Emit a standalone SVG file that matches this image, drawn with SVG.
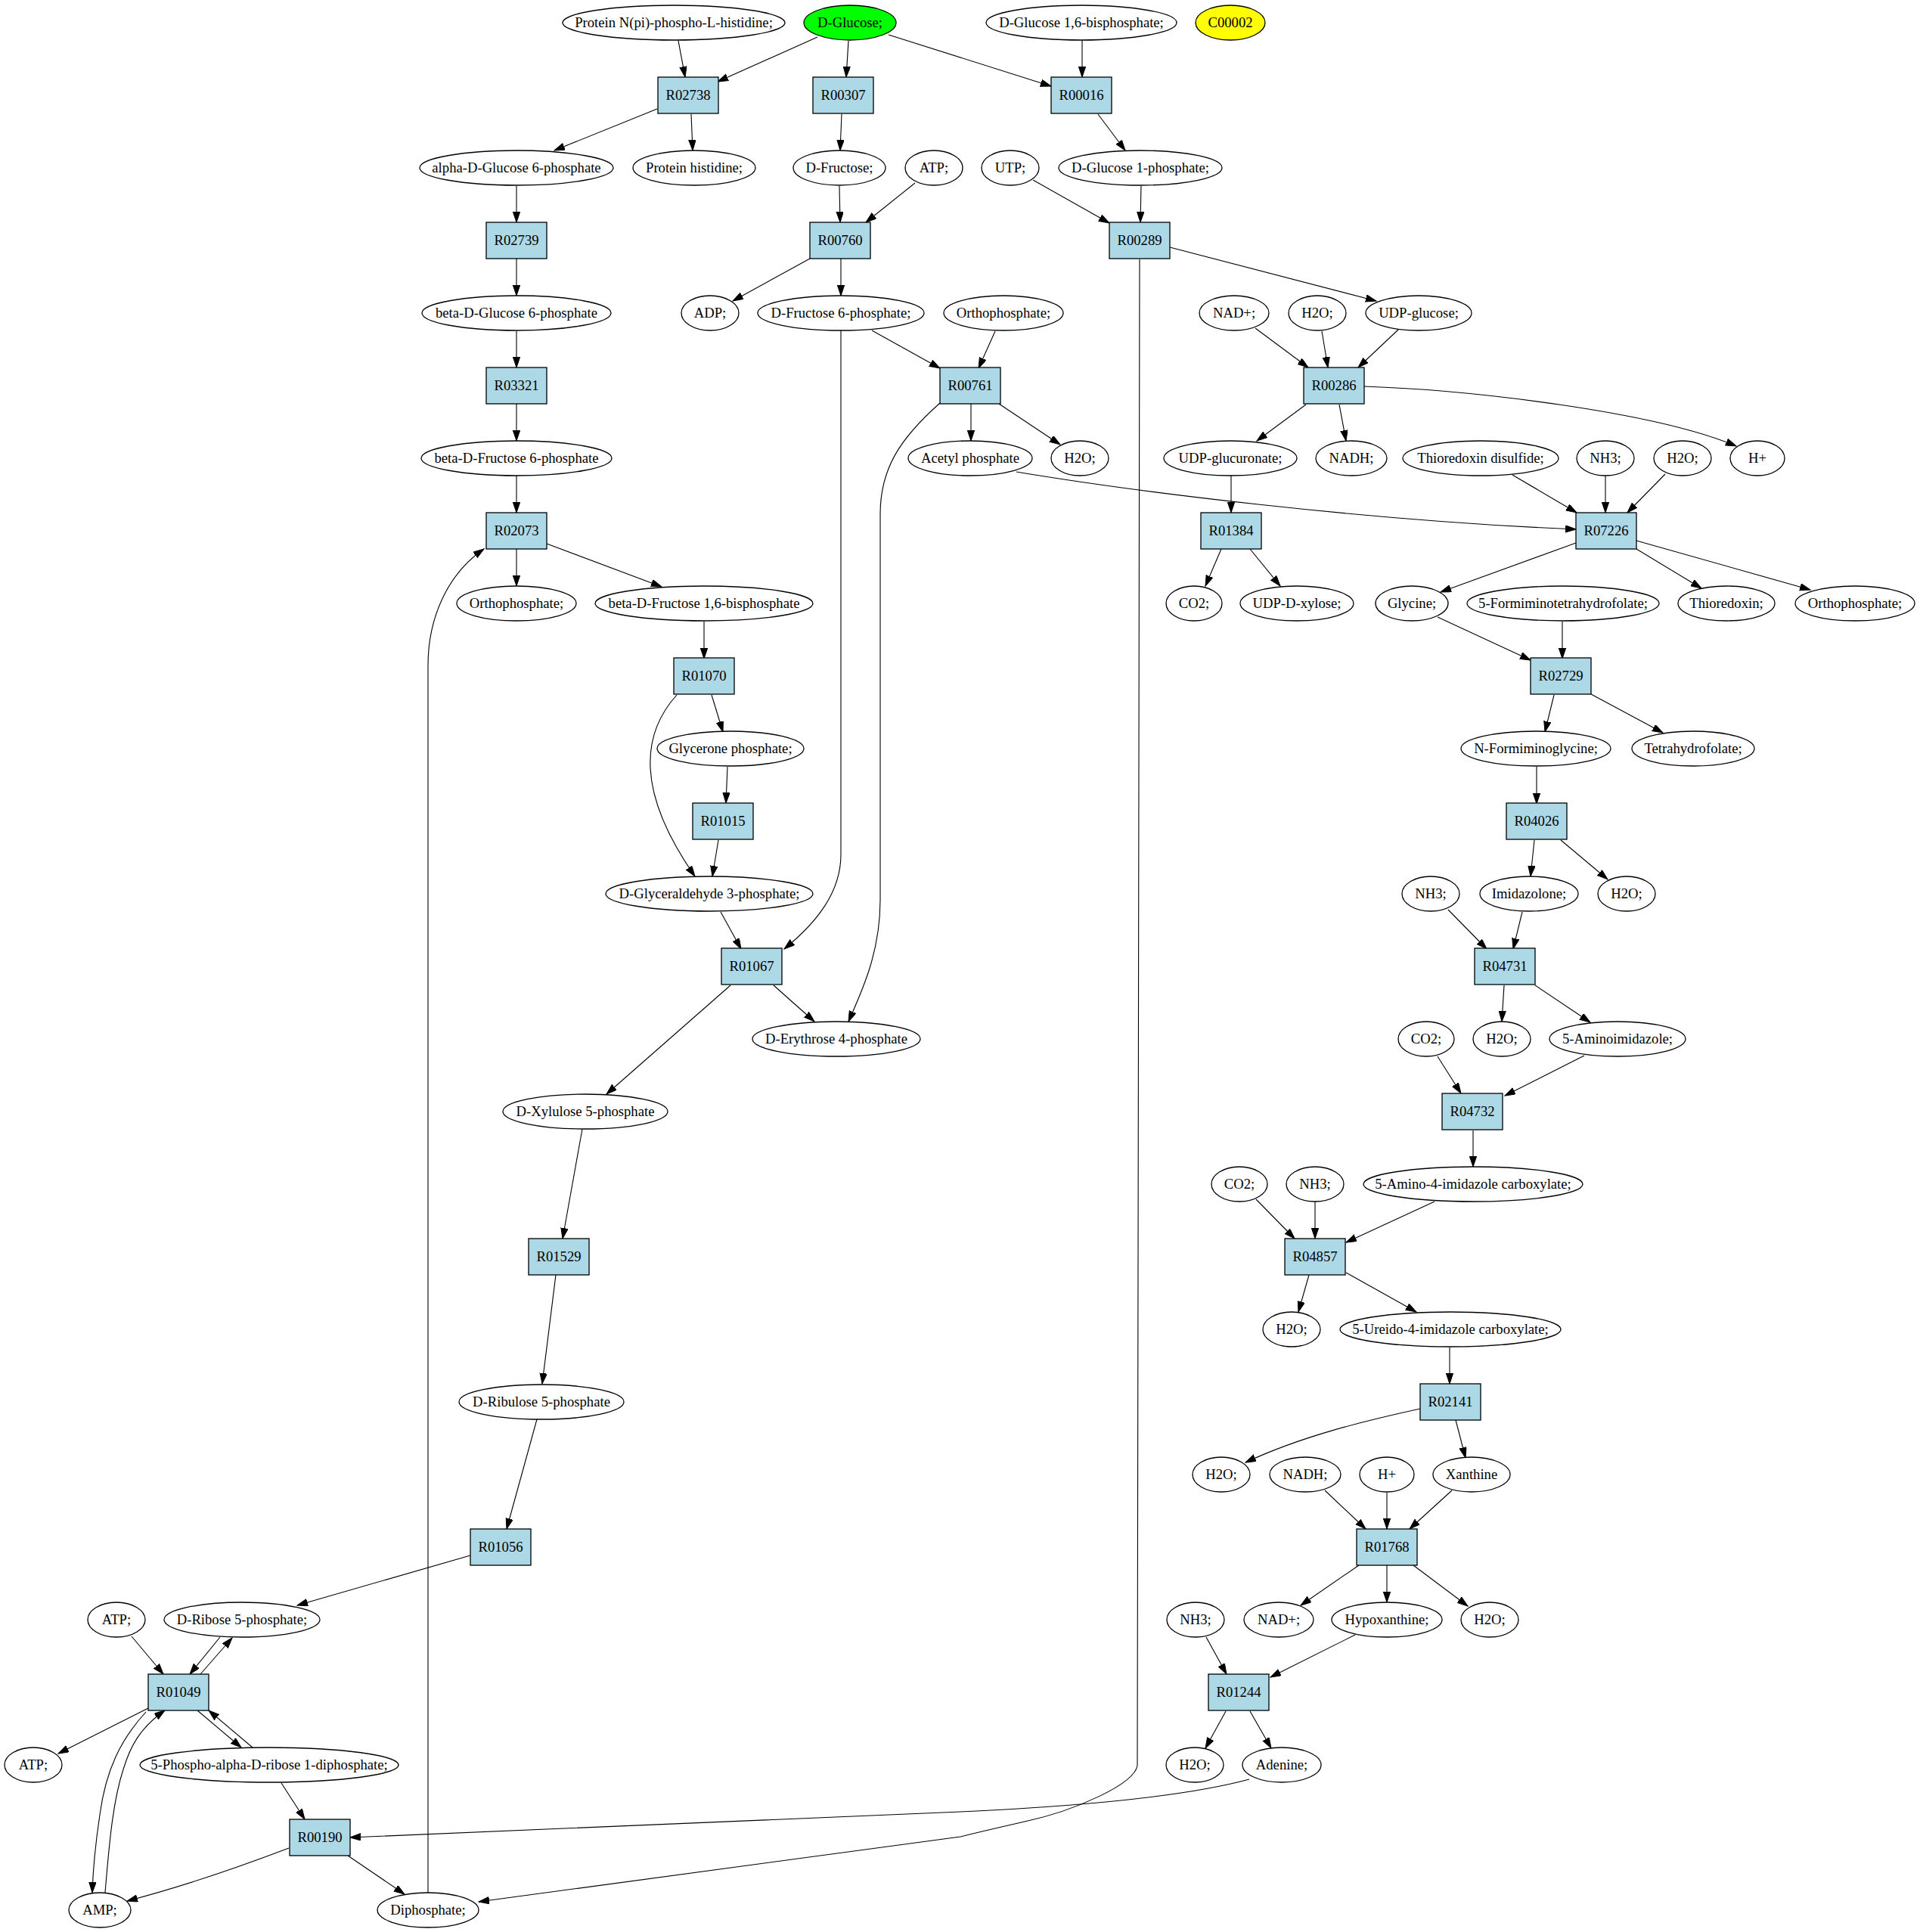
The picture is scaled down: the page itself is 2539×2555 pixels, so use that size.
<svg xmlns="http://www.w3.org/2000/svg" width="2539" height="2555" viewBox="0 0 2539 2555">
<style>
.bg{fill:#ffffff}
.e{fill:#ffffff;stroke:#000;stroke-width:1.3}
.r{fill:#add8e6;stroke:#000;stroke-width:1.3}
.g{fill:#00ff00;stroke:#000;stroke-width:1.3}
.y{fill:#ffff00;stroke:#000;stroke-width:1.3}
text{font-family:"Liberation Serif","Times New Roman",serif;font-size:18.67px;text-anchor:middle;fill:#000}
.c path{fill:none;stroke:#000;stroke-width:1.1;marker-end:url(#ah)}
</style>
<defs>
<marker id="ah" markerUnits="userSpaceOnUse" markerWidth="15" markerHeight="10" refX="14" refY="4.7" orient="auto"><path d="M0,0 L14,4.7 L0,9.4 z" fill="#000" stroke="#000" stroke-width="1"/></marker>
</defs>
<rect class="bg" x="0" y="0" width="2539" height="2555"/>
<g class="c" id="connectors">
<path d="M897,54 L906,102"/>
<path d="M1081,49 L949,108"/>
<path d="M1122,54 L1119,102"/>
<path d="M1175,46 L1390,114"/>
<path d="M1431,53 L1431,102"/>
<path d="M869,144 L733,199"/>
<path d="M914,151 L916,199"/>
<path d="M1113,151 L1111,199"/>
<path d="M1452,151 L1488,199"/>
<path d="M683,246 L683,294"/>
<path d="M1110,246 L1111,294"/>
<path d="M1210,242 L1145,294"/>
<path d="M1366,238 L1467,295"/>
<path d="M1509,246 L1508,294"/>
<path d="M683,342 L683,391"/>
<path d="M1071,342 L969,398"/>
<path d="M1112,342 L1112,391"/>
<path d="M1547,327 L1820,398"/>
<path d="M1507,343 L1504,2335 C1500,2360 1420,2395 1355,2409 C1320,2417 1290,2424 1270,2429 L633,2515"/>
<path d="M1153,437 L1243,487"/>
<path d="M1316,438 L1294,487"/>
<path d="M1112,437 L1112,1130 C1112,1180 1080,1220 1037,1255"/>
<path d="M1660,434 L1730,486"/>
<path d="M1748,438 L1756,486"/>
<path d="M1849,436 L1796,486"/>
<path d="M683,438 L683,486"/>
<path d="M683,534 L683,583"/>
<path d="M1284,534 L1284,583"/>
<path d="M1321,534 L1402,588"/>
<path d="M1243,533 C1190,580 1164,620 1164,680 L1164,1190 C1164,1260 1140,1310 1122,1351"/>
<path d="M1727,535 L1662,583"/>
<path d="M1771,535 L1780,583"/>
<path d="M1804,511 C1950,516 2190,545 2296,590"/>
<path d="M683,629 L683,678"/>
<path d="M1344,624 C1500,650 1800,688 2084,700"/>
<path d="M1628,629 L1628,678"/>
<path d="M2000,628 L2085,678"/>
<path d="M2123,629 L2123,678"/>
<path d="M2202,627 L2152,678"/>
<path d="M683,726 L683,775"/>
<path d="M723,719 L875,776"/>
<path d="M566,2503 L566,880 C566,820 590,760 640,726"/>
<path d="M1615,726 L1594,775"/>
<path d="M1653,726 L1693,775"/>
<path d="M2084,718 L1905,783"/>
<path d="M2164,726 L2250,778"/>
<path d="M2164,715 L2394,780"/>
<path d="M931,822 L931,871"/>
<path d="M1901,816 L2024,873"/>
<path d="M2066,822 L2066,871"/>
<path d="M941,919 L956,968"/>
<path d="M895,919 C840,980 850,1060 919,1159"/>
<path d="M2055,919 L2043,968"/>
<path d="M2104,918 L2199,969"/>
<path d="M962,1014 L960,1062"/>
<path d="M2032,1014 L2032,1063"/>
<path d="M950,1111 L942,1159"/>
<path d="M2029,1111 L2024,1159"/>
<path d="M2064,1111 L2126,1163"/>
<path d="M953,1206 L980,1255"/>
<path d="M1915,1203 L1966,1255"/>
<path d="M2013,1206 L2001,1255"/>
<path d="M1023,1303 L1077,1351"/>
<path d="M966,1303 L802,1447"/>
<path d="M1989,1303 L1986,1351"/>
<path d="M2030,1303 L2103,1352"/>
<path d="M1901,1397 L1932,1446"/>
<path d="M2095,1396 L1990,1449"/>
<path d="M770,1493 L744,1638"/>
<path d="M1948,1495 L1948,1543"/>
<path d="M1661,1586 L1712,1638"/>
<path d="M1739,1589 L1739,1638"/>
<path d="M1897,1589 L1780,1643"/>
<path d="M1731,1686 L1717,1735"/>
<path d="M1780,1683 L1873,1735"/>
<path d="M735,1686 L717,1830"/>
<path d="M1917,1782 L1917,1830"/>
<path d="M1878,1863 C1800,1880 1720,1900 1647,1934"/>
<path d="M1925,1878 L1938,1928"/>
<path d="M710,1877 L670,2022"/>
<path d="M1752,1971 L1806,2022"/>
<path d="M1834,1974 L1834,2022"/>
<path d="M1920,1971 L1864,2022"/>
<path d="M622,2057 L393,2123"/>
<path d="M1797,2070 L1720,2123"/>
<path d="M1834,2070 L1834,2119"/>
<path d="M1869,2070 L1941,2124"/>
<path d="M174,2164 L216,2214"/>
<path d="M291,2165 L251,2214"/>
<path d="M265,2214 L307,2166"/>
<path d="M1595,2165 L1622,2214"/>
<path d="M1792,2162 L1680,2218"/>
<path d="M196,2259 L77,2319"/>
<path d="M261,2262 L319,2311"/>
<path d="M334,2311 L276,2262"/>
<path d="M193,2264 C160,2300 140,2340 132,2400 C126,2440 123,2470 122,2503"/>
<path d="M139,2503 C145,2430 150,2380 163,2340 C172,2310 185,2285 218,2262"/>
<path d="M1621,2263 L1594,2312"/>
<path d="M1653,2263 L1681,2312"/>
<path d="M372,2358 L403,2406"/>
<path d="M1652,2353 C1560,2378 1400,2390 1270,2396 L463,2430"/>
<path d="M382,2444 C340,2460 260,2490 168,2514"/>
<path d="M460,2454 L535,2505"/>
</g>
<g id="n_protein_nphospho"><ellipse class="e" cx="891" cy="30" rx="147" ry="23"/><text x="891" y="36">Protein N(pi)-phospho-L-histidine;</text></g>
<g id="n_dglucose"><ellipse class="g" cx="1124" cy="30" rx="61" ry="23"/><text x="1124" y="36">D-Glucose;</text></g>
<g id="n_dglucose16bp"><ellipse class="e" cx="1430" cy="30" rx="126" ry="23"/><text x="1430" y="36">D-Glucose 1,6-bisphosphate;</text></g>
<g id="n_c00002"><ellipse class="y" cx="1627" cy="30" rx="46" ry="23"/><text x="1627" y="36">C00002</text></g>
<g id="r_R02738"><rect class="r" x="870" y="102" width="80" height="48"/><text x="910" y="132">R02738</text></g>
<g id="r_R00307"><rect class="r" x="1075" y="102" width="80" height="48"/><text x="1115" y="132">R00307</text></g>
<g id="r_R00016"><rect class="r" x="1390" y="102" width="80" height="48"/><text x="1430" y="132">R00016</text></g>
<g id="n_alphaglc6p"><ellipse class="e" cx="683" cy="222" rx="128" ry="23"/><text x="683" y="228">alpha-D-Glucose 6-phosphate</text></g>
<g id="n_proteinhis"><ellipse class="e" cx="918" cy="222" rx="81" ry="23"/><text x="918" y="228">Protein histidine;</text></g>
<g id="n_dfructose"><ellipse class="e" cx="1110" cy="222" rx="61" ry="23"/><text x="1110" y="228">D-Fructose;</text></g>
<g id="n_atp1"><ellipse class="e" cx="1235" cy="222" rx="38" ry="23"/><text x="1235" y="228">ATP;</text></g>
<g id="n_utp"><ellipse class="e" cx="1336" cy="222" rx="38" ry="23"/><text x="1336" y="228">UTP;</text></g>
<g id="n_dglc1p"><ellipse class="e" cx="1508" cy="222" rx="108" ry="23"/><text x="1508" y="228">D-Glucose 1-phosphate;</text></g>
<g id="r_R02739"><rect class="r" x="643" y="294" width="80" height="48"/><text x="683" y="324">R02739</text></g>
<g id="r_R00760"><rect class="r" x="1071" y="294" width="80" height="48"/><text x="1111" y="324">R00760</text></g>
<g id="r_R00289"><rect class="r" x="1467" y="294" width="80" height="48"/><text x="1507" y="324">R00289</text></g>
<g id="n_betaglc6p"><ellipse class="e" cx="683" cy="414" rx="125" ry="23"/><text x="683" y="420">beta-D-Glucose 6-phosphate</text></g>
<g id="n_adp"><ellipse class="e" cx="939" cy="414" rx="38" ry="23"/><text x="939" y="420">ADP;</text></g>
<g id="n_dfru6p"><ellipse class="e" cx="1112" cy="414" rx="110" ry="23"/><text x="1112" y="420">D-Fructose 6-phosphate;</text></g>
<g id="n_orthop1"><ellipse class="e" cx="1327" cy="414" rx="79" ry="23"/><text x="1327" y="420">Orthophosphate;</text></g>
<g id="n_nadp1"><ellipse class="e" cx="1632" cy="414" rx="46" ry="23"/><text x="1632" y="420">NAD+;</text></g>
<g id="n_h2o1"><ellipse class="e" cx="1742" cy="414" rx="38" ry="23"/><text x="1742" y="420">H2O;</text></g>
<g id="n_udpglc"><ellipse class="e" cx="1876" cy="414" rx="70" ry="23"/><text x="1876" y="420">UDP-glucose;</text></g>
<g id="r_R03321"><rect class="r" x="643" y="486" width="80" height="48"/><text x="683" y="516">R03321</text></g>
<g id="r_R00761"><rect class="r" x="1243" y="486" width="80" height="48"/><text x="1283" y="516">R00761</text></g>
<g id="r_R00286"><rect class="r" x="1724" y="486" width="80" height="48"/><text x="1764" y="516">R00286</text></g>
<g id="n_betafru6p"><ellipse class="e" cx="683" cy="606" rx="126" ry="23"/><text x="683" y="612">beta-D-Fructose 6-phosphate</text></g>
<g id="n_acetylp"><ellipse class="e" cx="1283" cy="606" rx="82" ry="23"/><text x="1283" y="612">Acetyl phosphate</text></g>
<g id="n_h2o2"><ellipse class="e" cx="1428" cy="606" rx="38" ry="23"/><text x="1428" y="612">H2O;</text></g>
<g id="n_udpglcur"><ellipse class="e" cx="1627" cy="606" rx="88" ry="23"/><text x="1627" y="612">UDP-glucuronate;</text></g>
<g id="n_nadh1"><ellipse class="e" cx="1787" cy="606" rx="47" ry="23"/><text x="1787" y="612">NADH;</text></g>
<g id="n_trxdis"><ellipse class="e" cx="1958" cy="606" rx="103" ry="23"/><text x="1958" y="612">Thioredoxin disulfide;</text></g>
<g id="n_nh3_1"><ellipse class="e" cx="2123" cy="606" rx="38" ry="23"/><text x="2123" y="612">NH3;</text></g>
<g id="n_h2o3"><ellipse class="e" cx="2225" cy="606" rx="38" ry="23"/><text x="2225" y="612">H2O;</text></g>
<g id="n_hplus1"><ellipse class="e" cx="2324" cy="606" rx="36" ry="23"/><text x="2324" y="612">H+</text></g>
<g id="r_R02073"><rect class="r" x="643" y="678" width="80" height="48"/><text x="683" y="708">R02073</text></g>
<g id="r_R01384"><rect class="r" x="1588" y="678" width="80" height="48"/><text x="1628" y="708">R01384</text></g>
<g id="r_R07226"><rect class="r" x="2084" y="678" width="80" height="48"/><text x="2124" y="708">R07226</text></g>
<g id="n_orthop2"><ellipse class="e" cx="683" cy="798" rx="79" ry="23"/><text x="683" y="804">Orthophosphate;</text></g>
<g id="n_betafru16bp"><ellipse class="e" cx="931" cy="798" rx="144" ry="23"/><text x="931" y="804">beta-D-Fructose 1,6-bisphosphate</text></g>
<g id="n_co2_1"><ellipse class="e" cx="1579" cy="798" rx="37" ry="23"/><text x="1579" y="804">CO2;</text></g>
<g id="n_udpxyl"><ellipse class="e" cx="1715" cy="798" rx="75" ry="23"/><text x="1715" y="804">UDP-D-xylose;</text></g>
<g id="n_glycine"><ellipse class="e" cx="1867" cy="798" rx="48" ry="23"/><text x="1867" y="804">Glycine;</text></g>
<g id="n_5fthf"><ellipse class="e" cx="2067" cy="798" rx="127" ry="23"/><text x="2067" y="804">5-Formiminotetrahydrofolate;</text></g>
<g id="n_trx"><ellipse class="e" cx="2283" cy="798" rx="64" ry="23"/><text x="2283" y="804">Thioredoxin;</text></g>
<g id="n_orthop3"><ellipse class="e" cx="2453" cy="798" rx="79" ry="23"/><text x="2453" y="804">Orthophosphate;</text></g>
<g id="r_R01070"><rect class="r" x="891" y="870" width="80" height="48"/><text x="931" y="900">R01070</text></g>
<g id="r_R02729"><rect class="r" x="2024" y="870" width="80" height="48"/><text x="2064" y="900">R02729</text></g>
<g id="n_glyceronep"><ellipse class="e" cx="966" cy="990" rx="97" ry="23"/><text x="966" y="996">Glycerone phosphate;</text></g>
<g id="n_nformgly"><ellipse class="e" cx="2031" cy="990" rx="99" ry="23"/><text x="2031" y="996">N-Formiminoglycine;</text></g>
<g id="n_thf"><ellipse class="e" cx="2239" cy="990" rx="81" ry="23"/><text x="2239" y="996">Tetrahydrofolate;</text></g>
<g id="r_R01015"><rect class="r" x="916" y="1062" width="80" height="48"/><text x="956" y="1092">R01015</text></g>
<g id="r_R04026"><rect class="r" x="1992" y="1062" width="80" height="48"/><text x="2032" y="1092">R04026</text></g>
<g id="n_g3p"><ellipse class="e" cx="938" cy="1182" rx="137" ry="23"/><text x="938" y="1188">D-Glyceraldehyde 3-phosphate;</text></g>
<g id="n_nh3_2"><ellipse class="e" cx="1892" cy="1182" rx="38" ry="23"/><text x="1892" y="1188">NH3;</text></g>
<g id="n_imidazolone"><ellipse class="e" cx="2022" cy="1182" rx="65" ry="23"/><text x="2022" y="1188">Imidazolone;</text></g>
<g id="n_h2o4"><ellipse class="e" cx="2151" cy="1182" rx="38" ry="23"/><text x="2151" y="1188">H2O;</text></g>
<g id="r_R01067"><rect class="r" x="954" y="1254" width="80" height="48"/><text x="994" y="1284">R01067</text></g>
<g id="r_R04731"><rect class="r" x="1950" y="1254" width="80" height="48"/><text x="1990" y="1284">R04731</text></g>
<g id="n_e4p"><ellipse class="e" cx="1106" cy="1374" rx="111" ry="23"/><text x="1106" y="1380">D-Erythrose 4-phosphate</text></g>
<g id="n_co2_2"><ellipse class="e" cx="1886" cy="1374" rx="37" ry="23"/><text x="1886" y="1380">CO2;</text></g>
<g id="n_h2o5"><ellipse class="e" cx="1986" cy="1374" rx="38" ry="23"/><text x="1986" y="1380">H2O;</text></g>
<g id="n_5aminoimid"><ellipse class="e" cx="2139" cy="1374" rx="90" ry="23"/><text x="2139" y="1380">5-Aminoimidazole;</text></g>
<g id="n_xu5p"><ellipse class="e" cx="774" cy="1470" rx="109" ry="23"/><text x="774" y="1476">D-Xylulose 5-phosphate</text></g>
<g id="r_R04732"><rect class="r" x="1907" y="1446" width="80" height="48"/><text x="1947" y="1476">R04732</text></g>
<g id="n_co2_3"><ellipse class="e" cx="1639" cy="1566" rx="37" ry="23"/><text x="1639" y="1572">CO2;</text></g>
<g id="n_nh3_3"><ellipse class="e" cx="1739" cy="1566" rx="38" ry="23"/><text x="1739" y="1572">NH3;</text></g>
<g id="n_5a4ic"><ellipse class="e" cx="1948" cy="1566" rx="145" ry="23"/><text x="1948" y="1572">5-Amino-4-imidazole carboxylate;</text></g>
<g id="r_R01529"><rect class="r" x="699" y="1638" width="80" height="48"/><text x="739" y="1668">R01529</text></g>
<g id="r_R04857"><rect class="r" x="1699" y="1638" width="80" height="48"/><text x="1739" y="1668">R04857</text></g>
<g id="n_h2o6"><ellipse class="e" cx="1708" cy="1758" rx="38" ry="23"/><text x="1708" y="1764">H2O;</text></g>
<g id="n_5u4ic"><ellipse class="e" cx="1918" cy="1758" rx="146" ry="23"/><text x="1918" y="1764">5-Ureido-4-imidazole carboxylate;</text></g>
<g id="n_ru5p"><ellipse class="e" cx="716" cy="1854" rx="109" ry="23"/><text x="716" y="1860">D-Ribulose 5-phosphate</text></g>
<g id="r_R02141"><rect class="r" x="1878" y="1830" width="80" height="48"/><text x="1918" y="1860">R02141</text></g>
<g id="n_h2o7"><ellipse class="e" cx="1615" cy="1950" rx="38" ry="23"/><text x="1615" y="1956">H2O;</text></g>
<g id="n_nadh2"><ellipse class="e" cx="1726" cy="1950" rx="47" ry="23"/><text x="1726" y="1956">NADH;</text></g>
<g id="n_hplus2"><ellipse class="e" cx="1834" cy="1950" rx="36" ry="23"/><text x="1834" y="1956">H+</text></g>
<g id="n_xanthine"><ellipse class="e" cx="1946" cy="1950" rx="51" ry="23"/><text x="1946" y="1956">Xanthine</text></g>
<g id="r_R01056"><rect class="r" x="622" y="2022" width="80" height="48"/><text x="662" y="2052">R01056</text></g>
<g id="r_R01768"><rect class="r" x="1794" y="2022" width="80" height="48"/><text x="1834" y="2052">R01768</text></g>
<g id="n_atp2"><ellipse class="e" cx="154" cy="2142" rx="38" ry="23"/><text x="154" y="2148">ATP;</text></g>
<g id="n_r5p"><ellipse class="e" cx="320" cy="2142" rx="103" ry="23"/><text x="320" y="2148">D-Ribose 5-phosphate;</text></g>
<g id="n_nh3_4"><ellipse class="e" cx="1581" cy="2142" rx="38" ry="23"/><text x="1581" y="2148">NH3;</text></g>
<g id="n_nadp2"><ellipse class="e" cx="1691" cy="2142" rx="46" ry="23"/><text x="1691" y="2148">NAD+;</text></g>
<g id="n_hypox"><ellipse class="e" cx="1834" cy="2142" rx="73" ry="23"/><text x="1834" y="2148">Hypoxanthine;</text></g>
<g id="n_h2o8"><ellipse class="e" cx="1970" cy="2142" rx="38" ry="23"/><text x="1970" y="2148">H2O;</text></g>
<g id="r_R01049"><rect class="r" x="196" y="2214" width="80" height="48"/><text x="236" y="2244">R01049</text></g>
<g id="r_R01244"><rect class="r" x="1598" y="2214" width="80" height="48"/><text x="1638" y="2244">R01244</text></g>
<g id="n_atp3"><ellipse class="e" cx="44" cy="2334" rx="38" ry="23"/><text x="44" y="2340">ATP;</text></g>
<g id="n_prpp"><ellipse class="e" cx="356" cy="2334" rx="171" ry="23"/><text x="356" y="2340">5-Phospho-alpha-D-ribose 1-diphosphate;</text></g>
<g id="n_h2o9"><ellipse class="e" cx="1580" cy="2334" rx="38" ry="23"/><text x="1580" y="2340">H2O;</text></g>
<g id="n_adenine"><ellipse class="e" cx="1695" cy="2334" rx="52" ry="23"/><text x="1695" y="2340">Adenine;</text></g>
<g id="r_R00190"><rect class="r" x="383" y="2406" width="80" height="48"/><text x="423" y="2436">R00190</text></g>
<g id="n_amp"><ellipse class="e" cx="132" cy="2526" rx="41" ry="23"/><text x="132" y="2532">AMP;</text></g>
<g id="n_diphosphate"><ellipse class="e" cx="566" cy="2526" rx="67" ry="23"/><text x="566" y="2532">Diphosphate;</text></g>
</svg>
